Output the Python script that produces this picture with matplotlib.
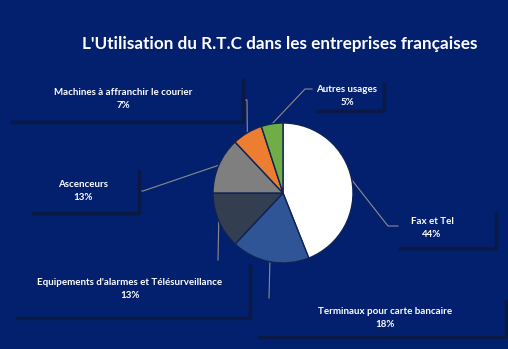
import numpy as np
import matplotlib.pyplot as plt

labels = ["Fax et Tel", "Terminaux pour carte bancaire",
          "Equipements d'alarmes et Télésurveillance", "Ascenceurs",
          "Machines à affranchir le courier", "Autres usages"]
values = [44, 18, 13, 13, 7, 5]
colors = ["#FFFFFF", "#2F5597", "#333F50", "#7F7F7F", "#ED7D31", "#70AD47"]

bg = "#03206E"
W, H = 508, 349

fig = plt.figure(figsize=(W / 100, H / 100), dpi=100)
fig.patch.set_facecolor(bg)
ax = fig.add_axes([0, 0, 1, 1])
ax.set_facecolor(bg)

cx, cy, r = 283, H - 193, 70
wedges, _ = ax.pie(values, colors=colors, startangle=90, counterclock=False,
                   center=(cx, cy), radius=r,
                   wedgeprops=dict(edgecolor="#0E2258", linewidth=1.0))
ax.set_xlim(0, W)
ax.set_ylim(0, H)
ax.axis("off")

# label boxes (left, right, top, bottom in px from top-left), text centre, elbow
boxes = {
    "Fax et Tel": ((398, 496, 212, 248), (432, 228), [(388, 226), (398, 226)]),
    "Terminaux pour carte bancaire": ((258, 506, 300, 337), (385, 318), [(269, 298)]),
    "Equipements d'alarmes et Télésurveillance": ((15, 250, 264, 318), (130, 289), [(218, 260)]),
    "Ascenceurs": ((32, 139, 170, 213), (83, 191), [(143, 191), (139, 191)]),
    "Machines à affranchir le courier": ((10, 243, 78, 122), (123, 99), [(247, 100), (243, 100)]),
    "Autres usages": ((316, 384, 82, 111), (347, 96), [(305, 89), (312, 89)]),
}

cum = np.cumsum([0] + values) / sum(values)
for i, lab in enumerate(labels):
    mid = np.deg2rad(90 - 360 * (cum[i] + cum[i + 1]) / 2)
    ax_, ay_ = cx + r * np.cos(mid), cy + r * np.sin(mid)
    (l, rr, t, b), (tx, ty), elbow = boxes[lab]
    xs = [ax_] + [p[0] for p in elbow]
    ys = [ay_] + [H - p[1] for p in elbow]
    ax.plot(xs, ys, color="#8C8C8C", lw=0.8, zorder=0)
    # shadow on right and bottom edges
    ax.plot([rr, rr, l], [H - t, H - b, H - b], color="#0A1A45", lw=2.5,
            solid_capstyle="butt", zorder=1)
    ax.text(tx, H - ty, f"{lab}\n{values[i]}%", ha="center", va="center",
            color="white", fontsize=7, fontweight="bold", family="Lato",
            linespacing=1.5, zorder=3)

ax.text(280, H - 44, "L'Utilisation du R.T.C dans les entreprises françaises",
        ha="center", va="center", color="white", fontsize=12.3,
        fontweight="bold", family="Lato")

fig.savefig("out.png", dpi=100, facecolor=bg)
